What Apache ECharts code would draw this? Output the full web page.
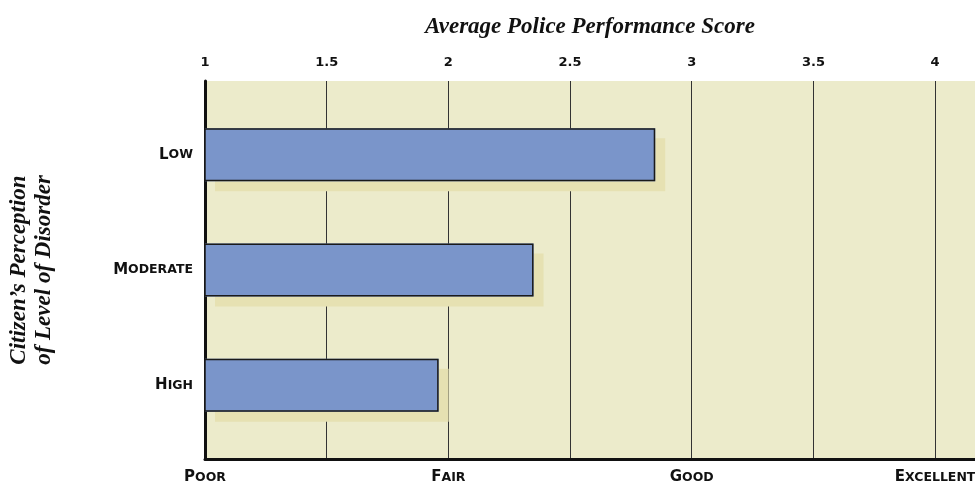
<!DOCTYPE html>
<html>
<head>
<meta charset="utf-8">
<script src="https://cdn.jsdelivr.net/npm/echarts@6/dist/echarts.min.js"></script>
<style>
  html, body { margin: 0; padding: 0; background: #fff; }
  #chart { width: 975px; height: 491px; }
</style>
</head>
<body>
<div id="chart"></div>
<script>
const disorderLevels = ['Low', 'Moderate', 'High']
const scores = [2.85, 2.35, 1.96]
const ratingLabels = ['Poor', 'Fair', 'Good', 'Excellent']
const scoreMin = 1
const scoreMax = 4.164

const sansFont = 'DejaVu Sans'
const serifFont = 'Liberation Serif'

// fake small caps: big first letter, rest upper case and smaller
function smallCaps(s) {
  return '{a|' + s.charAt(0).toUpperCase() + '}{b|' + s.slice(1).toUpperCase() + '}'
}
const smallCapsRich = {
  a: { fontFamily: sansFont, fontWeight: 'bold', fontSize: 15, color: '#111' },
  b: { fontFamily: sansFont, fontWeight: 'bold', fontSize: 12.5, color: '#111' },
}
const titleStyle = { fontFamily: serifFont, fontStyle: 'italic', fontWeight: 'bold', fontSize: 23, color: '#111' }

const option = {
  animation: false,
  grid: [
    // background frame
    { left: 205, right: 0, top: 81, bottom: 32, outerBoundsMode: 'none', show: true, borderWidth: 0, backgroundColor: '#ecebcb' },
    // bars
    { left: 205, right: 0, top: 97, bottom: 48, outerBoundsMode: 'none' },
  ],
  xAxis: [
    {
      gridIndex: 0,
      type: 'value',
      position: 'top',
      min: scoreMin,
      max: scoreMax,
      interval: 0.5,
      name: 'Average Police Performance Score',
      nameLocation: 'middle',
      nameGap: 42,
      nameTextStyle: titleStyle,
      axisLine: { show: true, lineStyle: { color: '#111', width: 2 } },
      axisTick: { show: false },
      axisLabel: {
        margin: 12,
        fontFamily: sansFont,
        fontWeight: 'bold',
        fontSize: 13,
        color: '#111',
        formatter: (v) => (Math.round(v * 2) === v * 2 ? String(v) : ''),
      },
      splitLine: { show: true, lineStyle: { color: '#333', width: 1 } },
    },
    {
      gridIndex: 0,
      type: 'value',
      position: 'bottom',
      min: scoreMin,
      max: scoreMax,
      interval: 1,
      axisLine: { show: true, lineStyle: { color: '#111', width: 3 } },
      axisTick: { show: false },
      splitLine: { show: false },
      axisLabel: {
        margin: 11,
        formatter: (v) => (Number.isInteger(v) && ratingLabels[v - 1] ? smallCaps(ratingLabels[v - 1]) : ''),
        rich: smallCapsRich,
      },
    },
    {
      gridIndex: 1,
      type: 'value',
      min: scoreMin,
      max: scoreMax,
      show: false,
    },
  ],
  yAxis: [
    {
      gridIndex: 0,
      type: 'value',
      min: 0,
      max: 1,
      axisLine: { show: true, lineStyle: { color: '#111', width: 3 } },
      axisTick: { show: false },
      axisLabel: { show: false },
      splitLine: { show: false },
    },
    {
      gridIndex: 1,
      type: 'category',
      inverse: true,
      data: disorderLevels,
      name: "Citizen’s Perception\nof Level of Disorder",
      nameLocation: 'middle',
      nameRotate: 90,
      nameGap: 148,
      nameTextStyle: Object.assign({ lineHeight: 25 }, titleStyle),
      axisLine: { show: false },
      axisTick: { show: false },
      axisLabel: {
        margin: 12,
        formatter: (v) => smallCaps(v),
        rich: smallCapsRich,
      },
    },
  ],
  series: [
    {
      // fill with the flat offset shadow
      type: 'bar',
      xAxisIndex: 2,
      yAxisIndex: 1,
      data: scores,
      barWidth: 53,
      itemStyle: {
        color: '#7a95ca',
        shadowColor: '#e6e1b2',
        shadowBlur: 0,
        shadowOffsetX: 10,
        shadowOffsetY: 10,
      },
    },
    {
      // outline on top, no shadow
      type: 'bar',
      xAxisIndex: 2,
      yAxisIndex: 1,
      data: scores,
      barWidth: 53,
      barGap: '-100%',
      silent: true,
      itemStyle: {
        color: 'transparent',
        borderColor: '#1a1a1a',
        borderWidth: 1.5,
      },
    },
  ],
}

const chart = echarts.init(document.getElementById('chart'))
chart.setOption(option)
</script>
</body>
</html>
